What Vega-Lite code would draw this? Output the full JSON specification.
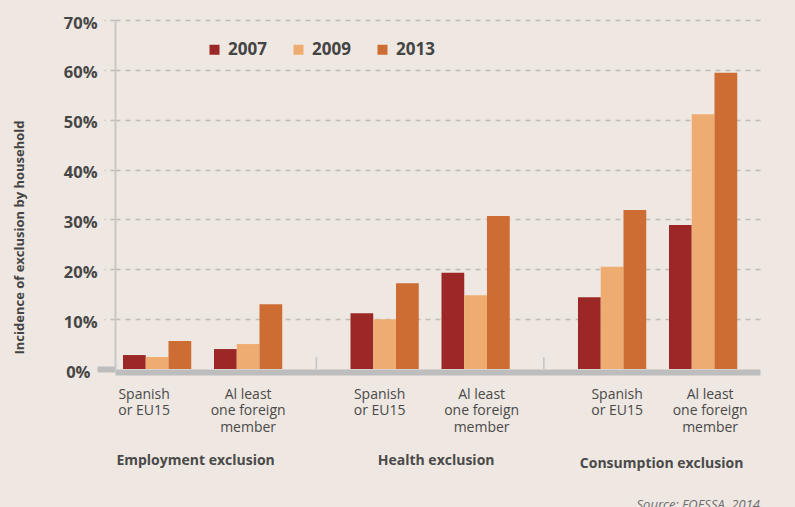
{
  "$schema": "https://vega.github.io/schema/vega-lite/v6.json",
  "width": 645,
  "height": 349,
  "autosize": "none",
  "padding": {"left": 115, "top": 20, "right": 35, "bottom": 138},
  "background": "#efe7e1",
  "config": {"view": {"stroke": null}, "font": "Open Sans"},
  "title": {"text": "Source: FOESSA, 2014", "orient": "bottom", "anchor": "end", "fontSize": 13, "fontStyle": "italic", "fontWeight": "normal", "color": "#6d6d6d", "offset": 29, "font": "Open Sans"},
  "datasets": {
    "bars": [
      {"bar": "E-S-2007", "group": "Employment exclusion", "household": "Spanish or EU15", "year": "2007", "value": 0.028},
      {"bar": "E-S-2009", "group": "Employment exclusion", "household": "Spanish or EU15", "year": "2009", "value": 0.024},
      {"bar": "E-S-2013", "group": "Employment exclusion", "household": "Spanish or EU15", "year": "2013", "value": 0.056},
      {"bar": "E-F-2007", "group": "Employment exclusion", "household": "At least one foreign member", "year": "2007", "value": 0.040},
      {"bar": "E-F-2009", "group": "Employment exclusion", "household": "At least one foreign member", "year": "2009", "value": 0.050},
      {"bar": "E-F-2013", "group": "Employment exclusion", "household": "At least one foreign member", "year": "2013", "value": 0.130},
      {"bar": "H-S-2007", "group": "Health exclusion", "household": "Spanish or EU15", "year": "2007", "value": 0.112},
      {"bar": "H-S-2009", "group": "Health exclusion", "household": "Spanish or EU15", "year": "2009", "value": 0.100},
      {"bar": "H-S-2013", "group": "Health exclusion", "household": "Spanish or EU15", "year": "2013", "value": 0.172},
      {"bar": "H-F-2007", "group": "Health exclusion", "household": "At least one foreign member", "year": "2007", "value": 0.193},
      {"bar": "H-F-2009", "group": "Health exclusion", "household": "At least one foreign member", "year": "2009", "value": 0.148},
      {"bar": "H-F-2013", "group": "Health exclusion", "household": "At least one foreign member", "year": "2013", "value": 0.307},
      {"bar": "C-S-2007", "group": "Consumption exclusion", "household": "Spanish or EU15", "year": "2007", "value": 0.144},
      {"bar": "C-S-2009", "group": "Consumption exclusion", "household": "Spanish or EU15", "year": "2009", "value": 0.205},
      {"bar": "C-S-2013", "group": "Consumption exclusion", "household": "Spanish or EU15", "year": "2013", "value": 0.319},
      {"bar": "C-F-2007", "group": "Consumption exclusion", "household": "At least one foreign member", "year": "2007", "value": 0.289},
      {"bar": "C-F-2009", "group": "Consumption exclusion", "household": "At least one foreign member", "year": "2009", "value": 0.511},
      {"bar": "C-F-2013", "group": "Consumption exclusion", "household": "At least one foreign member", "year": "2013", "value": 0.594}
    ],
    "seps": [{"sep": "sep1"}, {"sep": "sep2"}]
  },
  "layer": [
    {
      "data": {"name": "bars"},
      "mark": {"type": "bar"},
      "encoding": {
        "x": {
          "field": "bar", "type": "nominal",
          "scale": {
            "domain": ["E-S-2007", "E-S-2009", "E-S-2013", "Employment exclusion", "E-F-2007", "E-F-2009", "E-F-2013", "s7", "sep1", "s9", "H-S-2007", "H-S-2009", "H-S-2013", "Health exclusion", "H-F-2007", "H-F-2009", "H-F-2013", "s17", "sep2", "s19", "C-S-2007", "C-S-2009", "C-S-2013", "Consumption exclusion", "C-F-2007", "C-F-2009", "C-F-2013"],
            "paddingInner": 0, "paddingOuter": 0.676, "align": 0.26
          },
          "axis": {
            "title": null, "ticks": false, "domainColor": "#bdbdbd", "domainWidth": 6, "offset": 3, "domainCap": "butt",
            "labelAngle": 0, "labelFontSize": 14, "labelColor": "#4a4a4a", "labelLineHeight": 16.5, "labelLimit": 300, "labelOverlap": false,
            "labelExpr": "indexof(datum.value,'-S-2009')>=0 ? ['Spanish','or EU15'] : indexof(datum.value,'-F-2009')>=0 ? ['Al least','one foreign','member'] : indexof(datum.value,'exclusion')>=0 ? datum.value : ''",
            "labelFontWeight": {"condition": {"test": "indexof(datum.value,'exclusion')>=0", "value": "bold"}, "value": "normal"},
            "labelPadding": {"condition": [{"test": "datum.value=='Consumption exclusion'", "value": 84}, {"test": "indexof(datum.value,'exclusion')>=0", "value": 81}], "value": 15},
            "labelOffset": {"condition": [
              {"test": "datum.value=='E-S-2009'", "value": -13},
              {"test": "datum.value=='H-S-2009'", "value": -5},
              {"test": "datum.value=='H-F-2009'", "value": 6},
              {"test": "datum.value=='C-S-2009'", "value": 5},
              {"test": "datum.value=='C-F-2009'", "value": 7},
              {"test": "datum.value=='Employment exclusion'", "value": -7},
              {"test": "datum.value=='Health exclusion'", "value": 6},
              {"test": "datum.value=='Consumption exclusion'", "value": 4}
            ], "value": 0}
          }
        },
        "y": {
          "field": "value", "type": "quantitative",
          "scale": {"domain": [0, 0.7], "nice": false},
          "axis": {
            "title": "Incidence of exclusion by household", "titleFontSize": 13, "titleFontWeight": "bold", "titleColor": "#444444",
            "titleX": -96, "titleY": 217, "titleAngle": -90, "titleAlign": "center", "titleBaseline": "middle",
            "values": [0, 0.1, 0.2, 0.3, 0.4, 0.5, 0.6, 0.7], "format": ".0%",
            "labelFontSize": 16.5, "labelFontWeight": "bold", "labelColor": "#464646", "labelPadding": 7, "labelOffset": 3,
            "domainColor": "#c8c8c8", "domainWidth": 2,
            "tickSize": {"condition": {"test": "datum.value==0", "value": 18}, "value": 11},
            "tickColor": {"condition": {"test": "datum.value==0", "value": "#bdbdbd"}, "value": "#c0bcb8"},
            "tickDash": {"condition": {"test": "datum.value==0", "value": []}, "value": [5, 5]},
            "tickWidth": {"condition": {"test": "datum.value==0", "value": 6}, "value": 1.5},
            "grid": true, "gridColor": "#c0bcb8", "gridDash": [5, 5], "gridWidth": 1.5,
            "gridOpacity": {"condition": {"test": "datum.value==0", "value": 0}, "value": 1}
          }
        },
        "color": {
          "field": "year", "type": "nominal",
          "scale": {"domain": ["2007", "2009", "2013"], "range": ["#9c2727", "#efac71", "#cd6c33"]},
          "legend": {
            "orient": "none", "legendX": 91, "legendY": 21, "direction": "horizontal", "title": null,
            "symbolType": "square", "symbolSize": 100, "symbolStrokeWidth": 0, "symbolOpacity": 1,
            "labelFontSize": 17, "labelFontWeight": "bold", "labelColor": "#444444", "labelOffset": 5,
            "columnPadding": 23, "padding": 0
          }
        }
      }
    },
    {
      "data": {"name": "seps"},
      "mark": {"type": "rule", "color": "#c4c4c4", "strokeWidth": 1.5},
      "encoding": {
        "x": {
          "field": "sep", "type": "nominal",
          "scale": {
            "domain": ["E-S-2007", "E-S-2009", "E-S-2013", "Employment exclusion", "E-F-2007", "E-F-2009", "E-F-2013", "s7", "sep1", "s9", "H-S-2007", "H-S-2009", "H-S-2013", "Health exclusion", "H-F-2007", "H-F-2009", "H-F-2013", "s17", "sep2", "s19", "C-S-2007", "C-S-2009", "C-S-2013", "Consumption exclusion", "C-F-2007", "C-F-2009", "C-F-2013"],
            "paddingInner": 0, "paddingOuter": 0.676, "align": 0.26
          }
        },
        "y": {"datum": 0, "type": "quantitative"},
        "y2": {"datum": 0.024}
      }
    }
  ]
}
